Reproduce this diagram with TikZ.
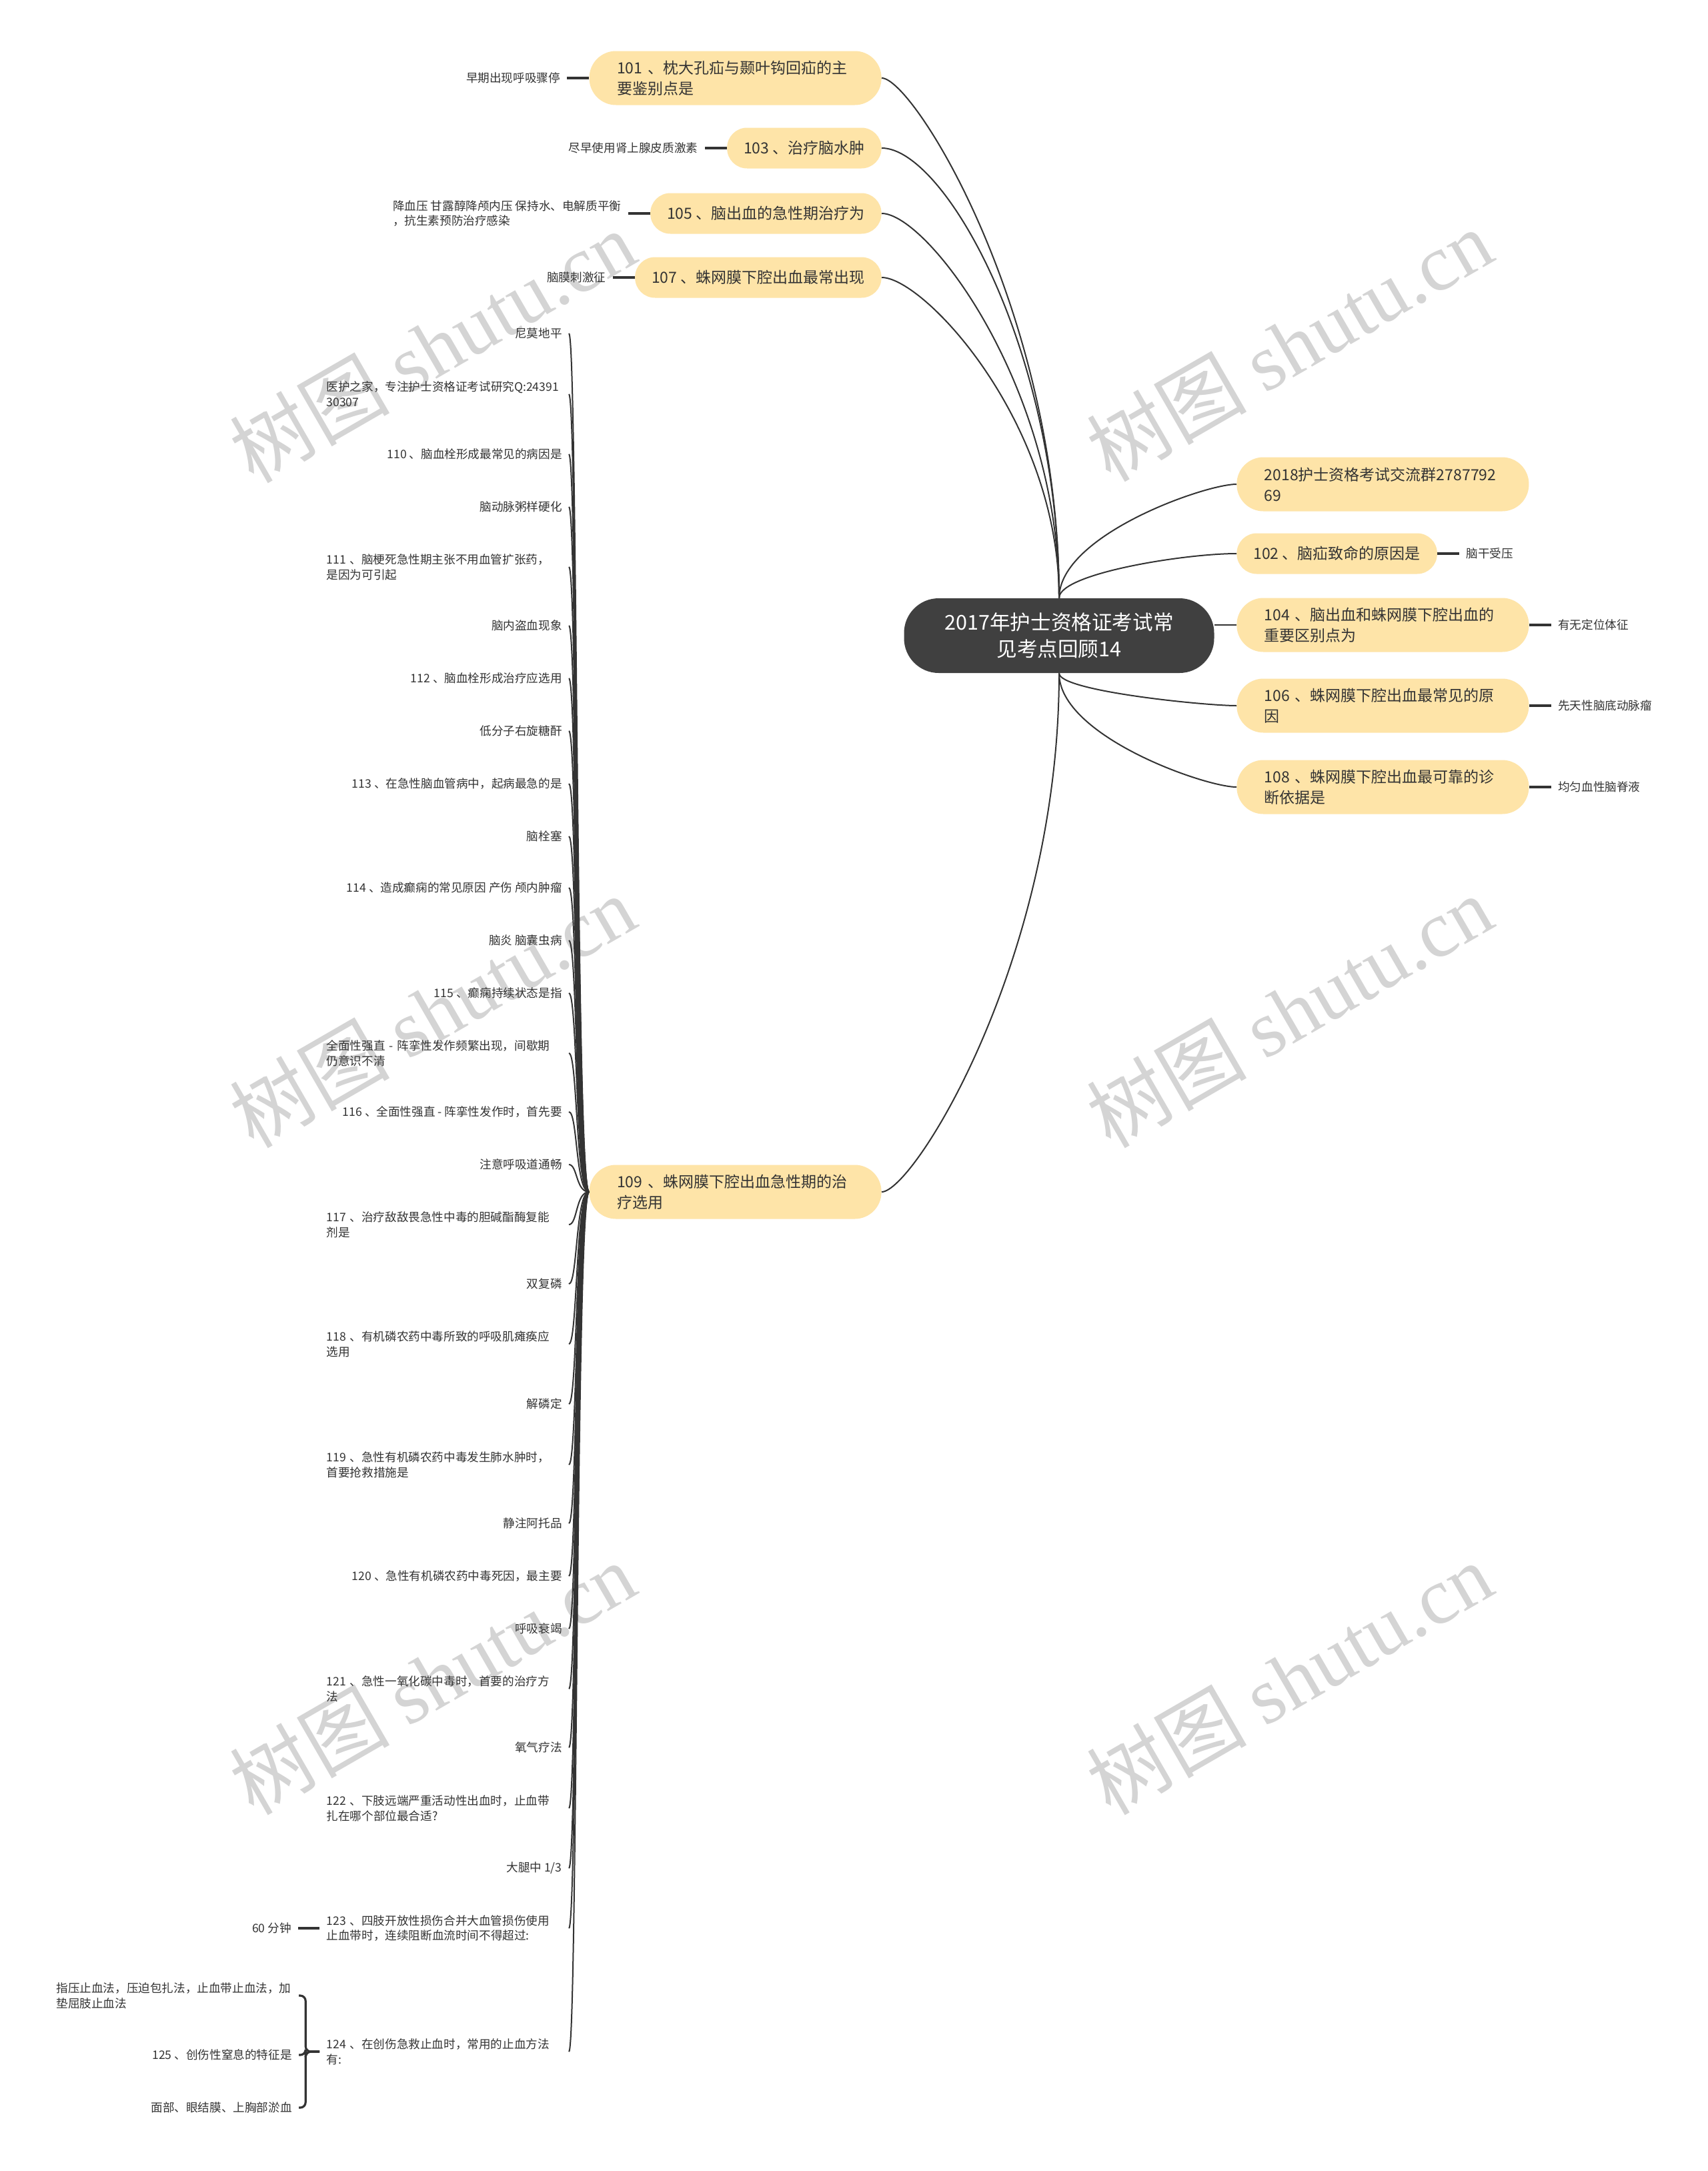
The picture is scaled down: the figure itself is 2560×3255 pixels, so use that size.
\documentclass[tikz,border=0pt]{standalone}
\usepackage{fontspec}
\setmainfont{Noto Sans CJK SC}
\newfontfamily\wmfont{Liberation Serif}
\usetikzlibrary{positioning, calc}

\definecolor{pill}{HTML}{FEE4A8}
\definecolor{ink}{HTML}{333333}
\definecolor{rootfill}{HTML}{404040}
\definecolor{wmgray}{HTML}{D4D4D4}

\tikzset{
	rootbox/.style={fill=rootfill, text=white, rounded corners=26pt, minimum width=232.5pt,
		minimum height=56pt, align=center, font=\fontsize{15.3}{19.7}\selectfont},
	pillbox/.style={fill=pill, text=ink, rounded corners=15pt, minimum height=30.5pt,
		inner xsep=12.5pt, inner ysep=2pt, font=\fontsize{11.5}{15.5}\selectfont},
	widebox/.style={text width=177.5pt, align=left, inner xsep=20.75pt,
		minimum height=40.5pt, rounded corners=20pt},
	leafbox/.style={text=ink, inner xsep=5pt, inner ysep=1pt, font=\fontsize{8.8}{11.4}\selectfont},
	sidebox/.style={leafbox, text width=176.5pt, align=left},
	link/.style={draw=ink, line width=1pt},
	stub/.style={draw=ink, line width=1.6pt},
	wmark/.style={text=wmgray, rotate=30, font=\fontsize{60}{60}\selectfont}
}

\begin{document}
\begin{tikzpicture}[x=0.5pt, y=-0.5pt]
	\fill[white] (0,0) rectangle (2560,3255);
	\useasboundingbox (0,0) rectangle (2560,3255);

	% watermarks
	\foreach \x/\y [count=\w] in {648/519, 1933/517, 648/1516, 1933/1516, 648/2516, 1933/2516}
		\node[wmark] (wm\w) at (\x,\y) {树图 {\wmfont shutu.cn}};

	% centre
	\node[rootbox] (root) at (1588,953) {2017年护士资格证考试常\\见考点回顾14};

	% left branches
	\node[pillbox, widebox, anchor=east] (n101) at (1322,117) {101 、枕大孔疝与颞叶钩回疝的主\\要鉴别点是};
	\node[pillbox, anchor=east] (n103) at (1322,222) {103 、治疗脑水肿};
	\node[pillbox, anchor=east] (n105) at (1322,320) {105 、脑出血的急性期治疗为};
	\node[pillbox, anchor=east] (n107) at (1322,416) {107 、蛛网膜下腔出血最常出现};
	\node[pillbox, widebox, anchor=east] (n109) at (1322,1787) {109 、蛛网膜下腔出血急性期的治\\疗选用};

	\node[leafbox, left=16.5pt of n101] (l101) {早期出现呼吸骤停};
	\node[leafbox, left=16.5pt of n103] (l103) {尽早使用肾上腺皮质激素};
	\node[leafbox, align=left, left=16.5pt of n105] (l105) {降血压 甘露醇降颅内压 保持水、电解质平衡\\，抗生素预防治疗感染};
	\node[leafbox, left=16.5pt of n107] (l107) {脑膜刺激征};

	% right branches
	\node[pillbox, widebox, anchor=west] (n2018) at (1854,726) {2018护士资格考试交流群2787792\\69};
	\node[pillbox, anchor=west] (n102) at (1854,830) {102 、脑疝致命的原因是};
	\node[pillbox, widebox, anchor=west] (n104) at (1854,937) {104 、脑出血和蛛网膜下腔出血的\\重要区别点为};
	\node[pillbox, widebox, anchor=west] (n106) at (1854,1058) {106 、蛛网膜下腔出血最常见的原\\因};
	\node[pillbox, widebox, anchor=west] (n108) at (1854,1180) {108 、蛛网膜下腔出血最可靠的诊\\断依据是};

	\node[leafbox, right=16.5pt of n102] (l102) {脑干受压};
	\node[leafbox, right=16.5pt of n104] (l104) {有无定位体征};
	\node[leafbox, right=16.5pt of n106] (l106) {先天性脑底动脉瘤};
	\node[leafbox, right=16.5pt of n108] (l108) {均匀血性脑脊液};

	% root links
	\foreach \t in {n101,n103,n105,n107,n2018,n102}
		\draw[link] (root.north) .. controls ($(root.north)!0.55!(root.north|-\t)$) and ($(\t)!0.55!(root.north|-\t)$) .. (\t);
	\foreach \t in {n106,n108,n109}
		\draw[link] (root.south) .. controls ($(root.south)!0.55!(root.south|-\t)$) and ($(\t)!0.55!(root.south|-\t)$) .. (\t);
	\draw[link] (n104.west) -- (n104.west -| root.east);

	\foreach \a/\b in {n101/l101, n103/l103, n105/l105, n107/l107}
		\draw[stub] (\a.west) -- (\b.east);
	\foreach \a/\b in {n102/l102, n104/l104, n106/l106, n108/l108}
		\draw[stub] (\a.east) -- (\b.west);

	% children of 109 (1 = one line, 2 = two lines)
	\foreach \y/\s/\t [count=\i] in {
		500/1/{尼莫地平},
		591/2/{医护之家，专注护士资格证考试研究Q:24391\\30307},
		681/1/{110 、脑血栓形成最常见的病因是},
		760/1/{脑动脉粥样硬化},
		850/2/{111 、脑梗死急性期主张不用血管扩张药，\\是因为可引起},
		938/1/{脑内盗血现象},
		1017/1/{112 、脑血栓形成治疗应选用},
		1096/1/{低分子右旋糖酐},
		1175/1/{113 、在急性脑血管病中，起病最急的是},
		1254/1/{脑栓塞},
		1331/1/{114 、造成癫痫的常见原因 产伤 颅内肿瘤},
		1410/1/{脑炎 脑囊虫病},
		1489/1/{115 、癫痫持续状态是指},
		1579/2/{全面性强直 - 阵挛性发作频繁出现，间歇期\\仍意识不清},
		1667/1/{116 、全面性强直 - 阵挛性发作时，首先要},
		1746/1/{注意呼吸道通畅},
		1836/2/{117 、治疗敌敌畏急性中毒的胆碱酯酶复能\\剂是},
		1925/1/{双复磷},
		2015/2/{118 、有机磷农药中毒所致的呼吸肌瘫痪应\\选用},
		2105/1/{解磷定},
		2196/2/{119 、急性有机磷农药中毒发生肺水肿时，\\首要抢救措施是},
		2284/1/{静注阿托品},
		2363/1/{120 、急性有机磷农药中毒死因，最主要},
		2442/1/{呼吸衰竭},
		2532/2/{121 、急性一氧化碳中毒时，首要的治疗方\\法},
		2620/1/{氧气疗法},
		2711/2/{122 、下肢远端严重活动性出血时，止血带\\扎在哪个部位最合适?},
		2801/1/{大腿中 1/3},
		2891/2/{123 、四肢开放性损伤合并大血管损伤使用\\止血带时，连续阻断血流时间不得超过:},
		3076/2/{124 、在创伤急救止血时，常用的止血方法\\有:}} {
		\ifnum\s=1
			\node[leafbox, anchor=east] (c\i) at (853,\y) {\t};
		\else
			\node[sidebox, anchor=east] (c\i) at (853,\y) {\t};
		\fi
		\draw[link] (n109.west) .. controls ($(n109.west)+(-20,0)$) and ($(c\i.east)+(13,0)$) .. (c\i.east);
	}

	% children of 123 and 124
	\node[leafbox, left=16pt of c29] (l123) {60 分钟};
	\draw[stub] (c29.west) -- (l123.east);

	\node[sidebox, anchor=east] (k1) at (448,2992) {指压止血法，压迫包扎法，止血带止血法，加\\垫屈肢止血法};
	\node[leafbox, anchor=east] (k2) at (448,3081) {125 、创伤性窒息的特征是};
	\node[leafbox, anchor=east] (k3) at (448,3160) {面部、眼结膜、上胸部淤血};
	\foreach \k in {k1,k2,k3}
		\draw[stub, rounded corners=4pt] (c30.west) -- ++(-21,0) |- (\k.east);
\end{tikzpicture}
\end{document}
